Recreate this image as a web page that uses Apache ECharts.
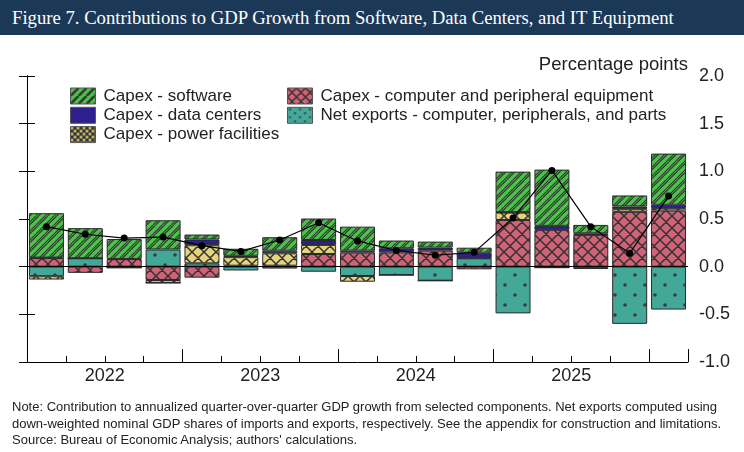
<!DOCTYPE html>
<html>
  <head>
    <meta charset="UTF-8" />
    <title></title>
    <style type="text/css">
      * {
        margin: 0;
        padding: 0;
      }
      body {
        width: 744px;
        height: 452px;
        background: #fff;
        position: relative;
        overflow: hidden;
      }
      #head {
        position: absolute;
        left: 0;
        top: 0;
        width: 744px;
        height: 35px;
        background-color: #1c3857;
        color: #fff;
        font-family: 'Liberation Serif', serif;
        font-size: 18.7px;
        line-height: 35px;
        padding-left: 12px;
        box-sizing: border-box;
        z-index: 2;
      }
      #main {
        position: absolute;
        left: 0;
        top: 0;
        width: 744px;
        height: 452px;
      }
      #note {
        position: absolute;
        left: 12px;
        top: 399px;
        width: 732px;
        font-family: 'Liberation Sans', Arial, sans-serif;
        font-size: 13px;
        line-height: 16.6px;
        color: #222;
        z-index: 2;
        white-space: nowrap;
      }
    </style>
  </head>

  <body>
    <div id="head">Figure 7. Contributions to GDP Growth from Software, Data Centers, and IT Equipment</div>
    <div id="main"></div>
    <div id="note">
      Note: Contribution to annualized quarter-over-quarter GDP growth from selected components. Net exports computed using<br />
      down-weighted nominal GDP shares of imports and exports, respectively. See the appendix for construction and limitations.<br />
      Source: Bureau of Economic Analysis; authors' calculations.
    </div>
  </body>
  <script src="https://cdn.jsdelivr.net/npm/echarts@6/dist/echarts.min.js"></script>
  <script type="text/javascript">
    // quarters 2022Q1 .. 2026Q1
    var quarters = ['2022Q1', '2022Q2', '2022Q3', '2022Q4', '2023Q1', '2023Q2', '2023Q3', '2023Q4',
      '2024Q1', '2024Q2', '2024Q3', '2024Q4', '2025Q1', '2025Q2', '2025Q3', '2025Q4', '2026Q1']
    var yearLabels = { 2: '2022', 6: '2023', 10: '2024', 14: '2025' }

    var computer = [0.09, -0.065, 0.08, -0.14, -0.115, 0.01, 0.01, 0.133, 0.147, 0.15, 0.168, -0.028, 0.49, 0.386, 0.333, 0.575, 0.589]
    var netExports = [-0.1, 0.088, -0.01, 0.18, 0.035, -0.04, -0.02, -0.053, -0.098, -0.088, -0.147, 0.088, -0.49, -0.01, -0.005, -0.6, -0.45]
    var power = [-0.035, 0, 0, -0.03, 0.19, 0.09, 0.13, 0.095, -0.06, 0, 0, 0.005, 0.077, 0, -0.02, 0.028, 0.025]
    var dataCenters = [0.005, 0, 0, 0, 0.06, 0.014, 0.028, 0.052, 0.021, 0.043, 0.032, 0.053, 0.005, 0.042, 0.017, 0.029, 0.035]
    var software = [0.466, 0.316, 0.21, 0.307, 0.052, 0.074, 0.141, 0.225, 0.252, 0.081, 0.063, 0.053, 0.425, 0.59, 0.088, 0.115, 0.537]
    var total = [0.42, 0.34, 0.3, 0.31, 0.22, 0.16, 0.28, 0.46, 0.27, 0.17, 0.12, 0.15, 0.51, 1.01, 0.42, 0.14, 0.74]

    var ink = '#333'
    var font = 'Liberation Sans, Arial, sans-serif'

    // pattern tiles
    function tile(w, h, bg, draw) {
      var c = document.createElement('canvas')
      c.width = w
      c.height = h
      var ctx = c.getContext('2d')
      ctx.fillStyle = bg
      ctx.fillRect(0, 0, w, h)
      draw(ctx, w, h)
      return { image: c, repeat: 'repeat' }
    }
    function cross(ctx, w, h) {
      ctx.strokeStyle = ink
      ctx.lineWidth = 1.5
      ctx.beginPath()
      for (var o = -w; o <= w; o += w) {
        ctx.moveTo(o, 0); ctx.lineTo(o + w, h)
        ctx.moveTo(o + w, 0); ctx.lineTo(o, h)
      }
      ctx.stroke()
    }
    function stripes(lw, gap) {
      return function (ctx, w, h) {
        ctx.strokeStyle = ink
        ctx.lineWidth = lw
        ctx.beginPath()
        for (var o = -w; o <= w; o += w) {
          ctx.moveTo(o, h); ctx.lineTo(o + w, 0)
          if (gap) { ctx.moveTo(o + gap, h); ctx.lineTo(o + w + gap, 0) }
        }
        ctx.stroke()
      }
    }
    function dots(color, r) {
      return function (ctx, w, h) {
        ctx.fillStyle = color
        ctx.beginPath()
        ctx.arc(w / 4, h / 4, r, 0, Math.PI * 2)
        ctx.arc(w * 3 / 4, h * 3 / 4, r, 0, Math.PI * 2)
        ctx.fill()
      }
    }
    var greenFill = tile(9, 9, '#4cc34a', stripes(1.1, 2.6))
    var pinkFill = tile(12, 12, '#d06378', cross)
    var yellowFill = tile(12, 12, '#e6d47c', cross)
    var tealFill = tile(20, 20, '#44a898', dots('#3a3a3a', 1.8))
    var navyFill = '#2e1f8e'

    // legend swatches are drawn denser than the bars
    var greenKey = tile(8, 8, '#4cc34a', stripes(2.6, 0))
    var yellowKey = tile(6, 6, '#333', dots('#e6d47c', 1.4))
    var pinkKey = tile(9, 9, '#d06378', cross)
    var tealKey = tile(10, 8, '#44a898', dots('#333', 1.1))

    function barSeries(name, data, fill) {
      return {
        name: name,
        type: 'bar',
        stack: 'all',
        data: data,
        barCategoryGap: '10%',
        itemStyle: {
          color: fill,
          borderColor: '#2a2a2a',
          borderWidth: 1
        }
      }
    }

    var series = [
      barSeries('Capex - computer and peripheral equipment', computer, pinkFill),
      barSeries('Net exports - computer, peripherals, and parts', netExports, tealFill),
      barSeries('Capex - power facilities', power, yellowFill),
      barSeries('Capex - data centers', dataCenters, navyFill),
      barSeries('Capex - software', software, greenFill),
      {
        name: 'Total',
        type: 'line',
        data: total,
        z: 5,
        symbol: 'circle',
        symbolSize: 7,
        itemStyle: { color: '#000' },
        lineStyle: { color: '#000', width: 1.2 },
        markLine: {
          silent: true,
          symbol: ['none', 'none'],
          label: { show: false },
          lineStyle: { color: '#000', width: 1, type: 'solid' },
          data: [{ yAxis: 0 }]
        }
      }
    ]

    var legendText = {
      color: '#222',
      fontSize: 17,
      fontFamily: font,
      lineHeight: 18,
      padding: [0, 0, 0, 3]
    }
    function key(name, fill) {
      return { name: name, icon: 'rect', itemStyle: { color: fill, borderColor: '#555', borderWidth: 1 } }
    }

    var myCharts = echarts.init(document.getElementById('main'))
    var option = {
      animation: false,
      grid: { left: 27, right: 56, top: 76, bottom: 90 },
      graphic: [
        {
          type: 'text',
          right: 56,
          top: 55,
          style: {
            text: 'Percentage points',
            fill: '#222',
            font: '18.5px "Liberation Sans", Arial, sans-serif'
          }
        }
      ],
      legend: [
        {
          left: 70,
          top: 87,
          padding: 0,
          orient: 'vertical',
          itemWidth: 25,
          itemHeight: 16,
          itemGap: 1.3,
          data: [
            key('Capex - software', greenKey),
            key('Capex - data centers', navyFill),
            key('Capex - power facilities', yellowKey)
          ],
          textStyle: legendText
        },
        {
          left: 287,
          top: 87,
          padding: 0,
          orient: 'vertical',
          itemWidth: 25,
          itemHeight: 16,
          itemGap: 1.3,
          data: [
            key('Capex - computer and peripheral equipment', pinkKey),
            key('Net exports - computer, peripherals, and parts', tealKey)
          ],
          textStyle: legendText
        }
      ],
      xAxis: [
        {
          type: 'category',
          data: quarters,
          show: false,
          axisLine: { onZero: false }
        },
        {
          type: 'value',
          min: 0,
          max: 17,
          interval: 1,
          position: 'bottom',
          axisLine: { show: true, onZero: false, lineStyle: { color: '#000', width: 1 } },
          axisTick: { show: true, inside: true, length: 6, lineStyle: { color: '#000' } },
          axisLabel: {
            formatter: function (v) { return yearLabels[v] || '' },
            color: '#222',
            fontSize: 18,
            margin: 5,
            fontFamily: font
          },
          splitLine: { show: false }
        },
        {
          type: 'value',
          min: 0,
          max: 17,
          interval: 4,
          position: 'bottom',
          axisLine: { show: false, onZero: false },
          axisTick: { show: true, inside: true, length: 13, lineStyle: { color: '#000' } },
          axisLabel: { show: false },
          splitLine: { show: false }
        }
      ],
      yAxis: [
        {
          type: 'value',
          position: 'right',
          min: -1,
          max: 2,
          interval: 0.5,
          axisLine: { show: true, lineStyle: { color: '#000', width: 1 } },
          axisTick: { show: true, inside: true, length: 8, lineStyle: { color: '#000' } },
          axisLabel: {
            formatter: function (v) { return v.toFixed(1) },
            color: '#222',
            fontSize: 18,
            margin: 11,
            fontFamily: font
          },
          splitLine: { show: false }
        },
        {
          type: 'value',
          position: 'left',
          min: -1,
          max: 2,
          interval: 0.5,
          axisLine: { show: true, lineStyle: { color: '#000', width: 1 } },
          axisTick: { show: true, inside: true, length: 8, lineStyle: { color: '#000' } },
          axisLabel: { show: false },
          splitLine: { show: false }
        }
      ],
      series: series
    }
    myCharts.setOption(option)
  </script>
</html>
